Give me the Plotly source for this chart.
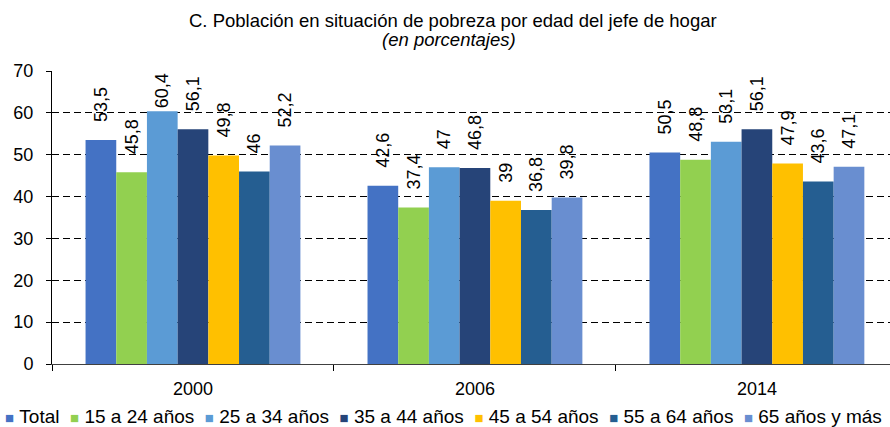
import plotly.graph_objects as go

# ---- data -------------------------------------------------------------
years = ["2000", "2006", "2014"]
series_names = ["Total", "15 a 24 años", "25 a 34 años", "35 a 44 años",
                "45 a 54 años", "55 a 64 años", "65 años y más"]
total = [53.5, 42.6, 50.5]
age_15_24 = [45.8, 37.4, 48.8]
age_25_34 = [60.4, 47.0, 53.1]
age_35_44 = [56.1, 46.8, 56.1]
age_45_54 = [49.8, 39.0, 47.9]
age_55_64 = [46.0, 36.8, 43.6]
age_65_plus = [52.2, 39.8, 47.1]
y_ticks = [0, 10, 20, 30, 40, 50, 60, 70]

series_values = [total, age_15_24, age_25_34, age_35_44,
                 age_45_54, age_55_64, age_65_plus]
colors = ["#4472C4", "#92D050", "#5B9BD5", "#264478",
          "#FFC000", "#255E91", "#698ED0"]

FONT = "Arial, 'Liberation Sans', sans-serif"
NBSP = "\u00a0"


def fmt(v):
    return f"{v:g}".replace(".", ",")


fig = go.Figure()
for name, vals, col in zip(series_names, series_values, colors):
    labels = []
    for v in vals:
        # labels that would run above the axis top are pulled down onto the bar
        pad = 0 if v > 58 else 3
        labels.append(NBSP * pad + fmt(v))
    fig.add_trace(go.Bar(
        name=name, x=years, y=vals,
        marker=dict(color=col, line=dict(width=0)),
        text=labels, textposition="outside", textangle=-90,
        textfont=dict(family=FONT, size=18, color="black"),
        constraintext="none", cliponaxis=False,
    ))

# legend drawn as a single line of text (Excel-style compact keys)
legend_parts = []
for name, col in zip(series_names, colors):
    legend_parts.append(
        f'<span style="font-size:15px;color:{col}">■</span>{NBSP}{name}')
legend_text = (NBSP + " ").join(legend_parts)

fig.update_layout(
    width=890, height=427,
    margin=dict(l=52, r=0, t=71, b=63),
    paper_bgcolor="white", plot_bgcolor="white",
    font=dict(family=FONT, color="black"),
    barmode="group", bargap=0.238, bargroupgap=0,
    showlegend=False,
    xaxis=dict(
        type="category", categoryorder="array", categoryarray=years,
        range=[-0.5, 2.472],
        showline=True, linecolor="#404040", linewidth=1,
        ticks="outside", tickson="boundaries", ticklen=6, tickcolor="black",
        showgrid=False, tickfont=dict(size=18, family=FONT),
        ticklabelstandoff=8,
    ),
    yaxis=dict(
        range=[0, 70], tickvals=y_ticks,
        showline=True, linecolor="black", linewidth=1,
        ticks="outside", ticklen=5, tickcolor="black",
        showgrid=True, gridcolor="black", gridwidth=1, griddash="7px,4px",
        zeroline=False, tickfont=dict(size=18, family=FONT),
        ticklabelstandoff=9,
    ),
    annotations=[
        dict(text="C. Población en situación de pobreza por edad del jefe de hogar",
             xref="paper", yref="paper", x=(453 - 52) / 838, y=(364 - 21) / 293,
             xanchor="center", yanchor="middle", showarrow=False,
             font=dict(size=18.5, family=FONT)),
        dict(text="<i>(en porcentajes)</i>",
             xref="paper", yref="paper", x=(449 - 52) / 838, y=(364 - 40) / 293,
             xanchor="center", yanchor="middle", showarrow=False,
             font=dict(size=18.5, family=FONT)),
        dict(text=legend_text,
             xref="paper", yref="paper", x=(3 - 52) / 838, y=(364 - 416) / 293,
             xanchor="left", yanchor="middle", showarrow=False, align="left",
             font=dict(size=19, family=FONT)),
    ],
)

fig.write_html(
    "out.html",
    config={"displayModeBar": False},
    post_script="document.body.style.margin='0';"
                "document.documentElement.style.overflow='hidden';",
)
